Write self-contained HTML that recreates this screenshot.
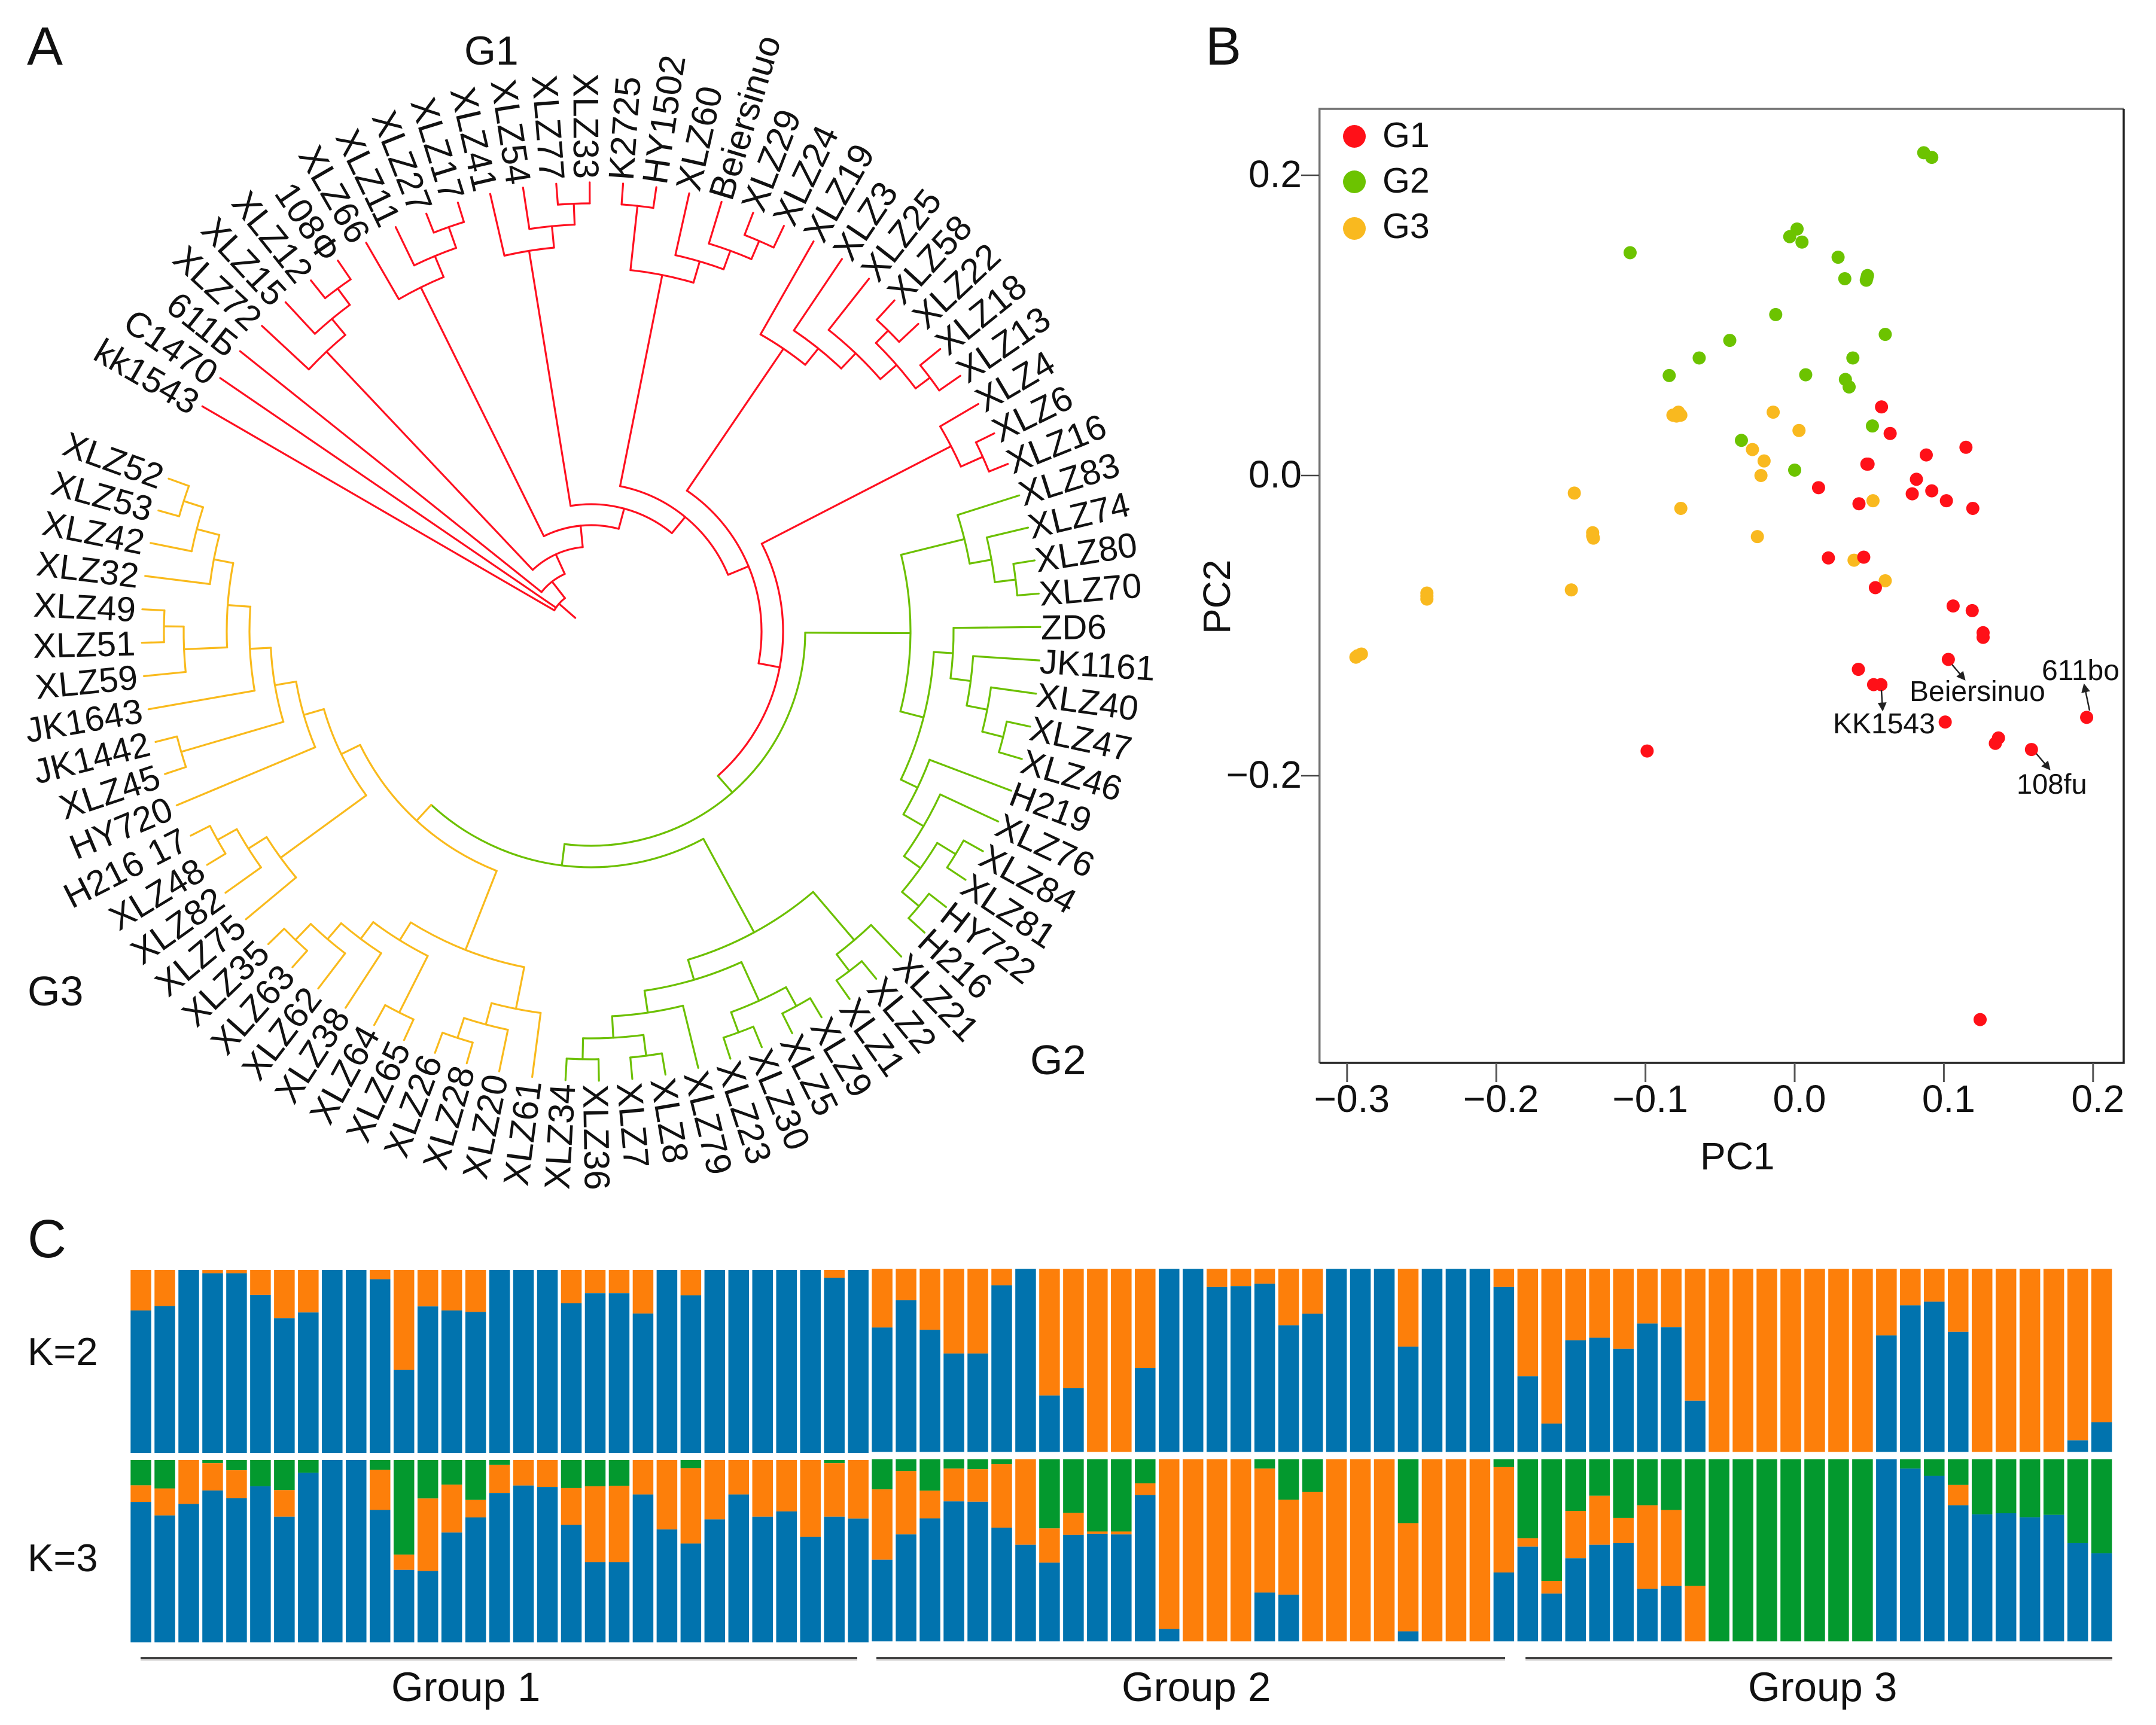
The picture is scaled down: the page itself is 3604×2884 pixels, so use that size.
<!DOCTYPE html>
<html lang="en">
<head>
<meta charset="utf-8">
<title>Phylogenetic tree, PCA and population structure</title>
<style>
html,body{margin:0;padding:0;background:#fff;}
svg{display:block;font-family:"Liberation Sans",Arial,sans-serif;}
text{fill:#111;}
</style>
</head>
<body>
<svg id="figure" xmlns="http://www.w3.org/2000/svg" width="3604" height="2884" viewBox="0 0 3604 2884">
<defs>
<marker id="arrowhead" markerWidth="7" markerHeight="7" refX="5" refY="3" orient="auto" markerUnits="strokeWidth"><path d="M0,0 L6,3 L0,6 Z" fill="#222"/></marker>
</defs>
<rect x="0" y="0" width="3604" height="2884" fill="#fff"/>

<text x="45" y="108" font-size="90">A</text>
<text x="2015" y="108" font-size="90">B</text>
<text x="46" y="2102" font-size="90">C</text>

<g id="tree"></g>
<text x="776" y="108" font-size="68">G1</text>
<text x="1722" y="1796" font-size="70">G2</text>
<text x="46" y="1681" font-size="70">G3</text>

<g id="pca">
<path d="M2205.7,1777 L2205.7,182 L3550,182" fill="none" stroke="#707070" stroke-width="3.5"/>
<path d="M2205.7,1777 L3550,1777 L3550,182" fill="none" stroke="#222" stroke-width="3.5"/>
<text x="2842" y="1955" font-size="64">PC1</text>
<text transform="translate(2056,1060) rotate(-90)" font-size="64">PC2</text>
<circle cx="2264" cy="228" r="19" fill="#ff1018"/>
<circle cx="2264" cy="304" r="19" fill="#6cc300"/>
<circle cx="2264" cy="382" r="19" fill="#f9b91f"/>
<text x="2311" y="246" font-size="59">G1</text>
<text x="2311" y="322" font-size="59">G2</text>
<text x="2311" y="398" font-size="59">G3</text>
</g>
<g id="pca-annotations">
<line x1="3263" y1="1111" x2="3284" y2="1136" stroke="#222" stroke-width="2.5" marker-end="url(#arrowhead)"/>
<line x1="3145" y1="1154" x2="3147" y2="1187" stroke="#222" stroke-width="2.5" marker-end="url(#arrowhead)"/>
<line x1="3493" y1="1188" x2="3484" y2="1145" stroke="#222" stroke-width="2.5" marker-end="url(#arrowhead)"/>
<line x1="3404" y1="1260" x2="3426" y2="1286" stroke="#222" stroke-width="2.5" marker-end="url(#arrowhead)"/>
<text x="3413" y="1137" font-size="48">611bo</text>
<text x="3192" y="1172" font-size="48">Beiersinuo</text>
<text x="3064" y="1226" font-size="48">KK1543</text>
<text x="3371" y="1327" font-size="47">108fu</text>
</g>

<g id="structure">
<text x="46" y="2282" font-size="65">K=2</text>
<text x="46" y="2627" font-size="65">K=3</text>
<line x1="235" y1="2775" x2="1433" y2="2775" stroke="#d2d0d0" stroke-width="3"/>
<line x1="1465" y1="2775" x2="2516" y2="2775" stroke="#d2d0d0" stroke-width="3"/>
<line x1="2550" y1="2775" x2="3531" y2="2775" stroke="#d2d0d0" stroke-width="3"/>
<line x1="235" y1="2772" x2="1433" y2="2772" stroke="#333" stroke-width="3.5"/>
<line x1="1465" y1="2772" x2="2516" y2="2772" stroke="#333" stroke-width="3.5"/>
<line x1="2550" y1="2772" x2="3531" y2="2772" stroke="#333" stroke-width="3.5"/>
<text x="654" y="2844" font-size="69">Group 1</text>
<text x="1875" y="2844" font-size="69">Group 2</text>
<text x="2922" y="2844" font-size="69">Group 3</text>
</g>
</svg>

<script>
// ---------- PCA data ----------
const pc1Ticks = [-0.3, -0.2, -0.1, 0.0, 0.1, 0.2];
const pc2Ticks = [0.2, 0.0, -0.2];
const g1Pc1 = [.0582,.0640,.1148,.0882,.0484,.0492,.0816,.0160,.0919,.0788,.0431,.1017,.1194,.0226,.0463,.0541,.1062,.1190,.1263,.1263,.1030,.0427,.0529,.0578,.1009,.1957,.1345,.1366,.1587,-.0989,.1243];
const g1Pc2 = [.0457,.0280,.0188,.0137,.0076,.0076,-.0025,-.0081,-.0102,-.0122,-.0188,-.0168,-.0219,-.0549,-.0544,-.0747,-.0869,-.0900,-.1047,-.1078,-.1225,-.1291,-.1393,-.1393,-.1642,-.1611,-.1784,-.1748,-.1825,-.1835,-.3624];
const g2Pc1 = [.0865,.0919,-.1103,.0016,-.0033,.0049,.0291,.0336,.0488,.0480,.0484,-.0127,-.0435,.0607,-.0640,-.0841,.0390,.0074,.0340,.0365,.0521,-.0357,.0000];
const g2Pc2 = [.2150,.2119,.1484,.1642,.1591,.1555,.1454,.1311,.1332,.1301,.1316,.1072,.0900,.0940,.0783,.0666,.0783,.0671,.0640,.0590,.0330,.0234,.0036];
const g3Pc1 = [-.0816,-.0779,-.0763,-.0792,-.0144,.0029,-.0283,-.0205,-.0226,-.1477,-.0763,-.1354,-.1349,-.0250,.0525,.0398,.0607,-.1497,-.2465,-.2465,-.2465,-.2904,-.2941,-.2929,-.1354];
const g3Pc2 = [.0402,.0422,.0402,.0396,.0422,.0300,.0173,.0097,.0000,-.0117,-.0219,-.0381,-.0417,-.0407,-.0168,-.0564,-.0701,-.0762,-.0783,-.0823,-.0803,-.1189,-.1210,-.1200,-.0402];

// ---------- Structure data (percent of bar height) ----------
const k2Blue = [77.8,80.2,100,98.1,98.1,86.3,73.5,76.7,100,100,94.8,45.4,80.0,77.8,77.0,100,100,100,81.7,87.2,87.2,76.1,100,86.1,100,100,100,100,100,95.6,100,
68.0,82.9,66.7,53.8,53.8,91.0,100,30.8,34.8,0,0,45.9,100,100,90.1,90.6,91.9,69.2,75.5,100,100,100,57.5,100,100,100,90.1,
41.3,15.5,61.0,62.4,56.4,70.2,68.1,28.0,0,0,0,0,0,0,0,63.7,80.1,82.1,65.6,0,0,0,0,6.3,16.2];
const k3Green = [13.9,15.6,0,1.7,5.6,14.4,16.5,7.0,0,0,5.4,51.9,21.1,13.5,21.9,2.6,0,0,15.4,14.4,14.1,0,0,4.4,0,0,0,0,0,1.7,0,
16.6,6.5,17.3,5.2,5.5,2.8,0,38.0,29.5,39.7,39.7,13.3,0,0,0,0,5.2,22.3,17.9,0,0,0,35.1,0,0,0,4.4,
43.4,66.8,28.4,20.1,32.3,25.3,27.9,69.6,100,100,100,100,100,100,100,0,5.2,9.2,14.2,30.3,29.7,31.9,30.6,46.1,51.7];
const k3Blue = [77.0,69.6,75.9,83.3,79.0,85.6,68.9,93.0,100,100,72.6,39.7,39.1,60.2,68.5,81.9,86.0,85.2,64.4,43.9,43.9,81.1,61.9,54.2,67.4,81.1,68.9,71.8,57.8,68.9,67.9,
44.8,58.7,67.5,76.8,76.6,62.4,53.0,43.2,58.5,58.9,58.7,80.3,6.8,0,0,0,26.8,25.6,0,0,0,0,5.5,0,0,0,37.8,
52.0,26.2,45.6,53.0,53.9,28.8,30.4,0,0,0,0,0,0,0,0,100,94.8,90.8,74.7,69.7,70.3,68.1,69.4,53.9,48.3];

// ---------- Tree data: arc radius per internal node, leaves in clockwise order ----------
const R = (r, ...kids) => ({r, g: 'g1', kids});
const V = (r, ...kids) => ({r, g: 'g2', kids});
const O = (r, ...kids) => ({r, g: 'g3', kids});
const g1a = R(644,'XLZ72',R(679,'XLZ15',R(713,'XLZ12','108Ф')));
const g1b = R(642,'XLZ66',R(680,'XLZ11',R(717,'XLZ27','XLZ17')));
const g1c = R(645,'XLZ41',R(681,'XLZ54',R(716,'XLZ77','XLZ33')));
const g1d = R(608,R(716,'K2725','HY1502'),R(645,'XLZ60',R(678,'Beiersinuo',R(711,'XLZ29','XLZ24'))));
const g1e = R(572,'XLZ19',R(607,'XLZ3',R(642,'XLZ25',R(678,R(707,'XLZ58','XLZ22'),R(708,'XLZ18','XLZ13')))));
const g1f = R(677,'XLZ4',R(717,'XLZ6','XLZ16'));
const g2Upper = V(643,'XLZ83',V(680,'XLZ74',V(715,'XLZ80','XLZ70')));
const g2A = V(606,'ZD6',V(640,'JK1161',V(675,'XLZ40',V(711,'XLZ47','XLZ46'))));
const g2B = V(605,'H219',V(644,'XLZ76',V(678,V(714,'XLZ84','XLZ81'),V(715,'HY722','H216'))));
const g2Top = V(534,g2Upper,V(574,g2A,g2B));
const g2P = V(678,'XLZ21',V(713,'XLZ2','XLZ1'));
const g2N = V(678,V(714,'XLZ9','XLZ5'),V(714,'XLZ30','XLZ23'));
const g2J = V(644,'XLZ79',V(680,V(715,'XLZ8','XLZ7'),V(715,'XLZ36','XLZ34')));
const g2Low = V(572,g2P,V(607,g2N,g2J));
const g3V = O(643,'XLZ61',O(680,'XLZ20',O(715,'XLZ28','XLZ26')));
const g3W = O(607,O(713,'XLZ65','XLZ64'),O(642,'XLZ38',O(677,'XLZ62',O(714,'XLZ63','XLZ35'))));
const g3S = O(572,g3V,g3W);
const g3L = O(642,'XLZ75',O(678,'XLZ82',O(715,'XLZ48','H216 17')));
const g3Deep = O(609,O(681,'XLZ59',O(714,'XLZ51','XLZ49')),O(642,'XLZ32',O(681,'XLZ42',O(715,'XLZ53','XLZ52'))));
const g3U = O(500,'HY720',O(536,O(714,'XLZ45','JK1442'),O(571,'JK1643',g3Deep)));
const g3T = O(465,g3L,g3U);
const n11 = O(430,g3S,g3T);
const n10 = V(394,g2Low,n11);
const n9 = V(358,g2Top,n10);
const n8 = R(321,g1f,n9);
const n7 = R(285,g1e,n8);
const n6 = R(248,g1d,n7);
const n5 = R(213,g1c,n6);
const n4 = R(178,g1b,n5);
const n3 = R(142,g1a,n4);
const n2 = R(106,'611Б',n3);
const treeRoot = R(71,'kk1543','C1470',n2);

const SVGNS = 'http://www.w3.org/2000/svg';
function mk(tag, parent, attrs, txt) {
  const el = document.createElementNS(SVGNS, tag);
  for (const k in attrs) el.setAttribute(k, attrs[k]);
  if (txt !== undefined) el.textContent = txt;
  parent.appendChild(el);
  return el;
}

// ---------- Tree drawing ----------
(function () {
  const host = document.getElementById('tree');
  const cx = 988, cy = 1056, leafR = 751, labelR = 757, rootR = 35;
  const labelCx = 983;
  const a0 = -149.9, da = 4.266;
  const colors = {g1: '#ff1020', g2: '#6cc000', g3: '#f9ba1c'};
  let idx = 0;
  const rad = d => d * Math.PI / 180;
  const pt = (a, r) => [cx + r * Math.cos(rad(a)), cy + r * Math.sin(rad(a))];
  function layout(n, g) {
    if (typeof n === 'string') {
      const a = a0 + da * idx;
      idx += 1;
      return {name: n, a, r: leafR, g, leaf: true};
    }
    const kids = n.kids.map(k => layout(k, n.g));
    return {r: n.r, g: n.g, kids, a: (kids[0].a + kids[kids.length - 1].a) / 2};
  }
  function draw(n, parentR) {
    const p1 = pt(n.a, parentR), p2 = pt(n.a, n.r);
    const stem = mk('line', host, {x1: p1[0], y1: p1[1], x2: p2[0], y2: p2[1], stroke: colors[n.g], 'stroke-width': 3.2, 'stroke-linecap': 'round'});
    
    
    if (n.leaf) {
      const flip = Math.cos(rad(n.a)) < 0;
      const lp = [labelCx + labelR * Math.cos(rad(n.a)), cy + labelR * Math.sin(rad(n.a))];
      const fontSize = 58 + 2 * Math.abs(Math.sin(rad(n.a)));
      const label = mk('text', host, {
        x: lp[0], y: lp[1], dy: '0.36em', 'font-size': fontSize,
        'text-anchor': flip ? 'end' : 'start',
        transform: 'rotate(' + (flip ? n.a + 180 : n.a) + ' ' + lp[0] + ' ' + lp[1] + ')'
      }, n.name);
      
      
      return;
    }
    const aS = n.kids[0].a, aE = n.kids[n.kids.length - 1].a;
    const s = pt(aS, n.r), e = pt(aE, n.r);
    const large = (aE - aS) > 180 ? 1 : 0;
    const arc = mk('path', host, {
      d: 'M' + s[0] + ',' + s[1] + ' A' + n.r + ',' + n.r + ' 0 ' + large + ' 1 ' + e[0] + ',' + e[1],
      fill: 'none', stroke: colors[n.g], 'stroke-width': 3.2, 'stroke-linecap': 'round'
    });
    
    
    n.kids.forEach(k => draw(k, n.r));
  }
  draw(layout(treeRoot, treeRoot.g), rootR);
})();

// ---------- PCA drawing ----------
(function () {
  const host = document.getElementById('pca');
  const xS = v => 3000 + 2494 * v;
  const yS = v => 795 - 2510 * v;
  const fmt = v => (v < 0 ? '\u2212' : '') + Math.abs(v).toFixed(1);
  pc1Ticks.forEach(v => {
    const t = mk('line', host, {x1: xS(v), y1: 1777, x2: xS(v), y2: 1809, stroke: '#555', 'stroke-width': 3});
    
    
    const l = mk('text', host, {x: xS(v) + 8, y: 1859, 'font-size': 64, 'text-anchor': 'middle'}, fmt(v));
    
    
  });
  pc2Ticks.forEach(v => {
    const t = mk('line', host, {x1: 2175, y1: yS(v), x2: 2205, y2: yS(v), stroke: '#444', 'stroke-width': 2.5});
    
    
    const l = mk('text', host, {x: 2176, y: yS(v) + 20, 'font-size': 64, 'text-anchor': 'end'}, fmt(v));
    
    
  });
  function series(xs, ys, color, name) {
    xs.forEach((x, i) => {
      const c = mk('circle', host, {cx: xS(x), cy: yS(ys[i]), r: 11, fill: color});
      
      
    });
  }
  series(g3Pc1, g3Pc2, '#f9b91f', 'point-g3');
  series(g2Pc1, g2Pc2, '#6cc300', 'point-g2');
  series(g1Pc1, g1Pc2, '#ff1018', 'point-g1');
})();

// ---------- Structure drawing ----------
(function () {
  const host = document.getElementById('structure');
  const BLUE = '#0173ae', ORANGE = '#fd7f0a', GREEN = '#03992e';
  const barX = i => 218.3 + 39.97 * i;
  const barW = 34.5;
  const shift = i => (i >= 31 ? -1.5 : 0);
  function seg(i, top, h, from, pct, color, name) {
    if (pct <= 0) return;
    const r = mk('rect', host, {x: barX(i), y: top + shift(i) + h * from / 100, width: barW, height: h * pct / 100, fill: color});
    
    
  }
  const k2Top = 2123, k2H = 306, k3Top = 2441, k3H = 304.7;
  k2Blue.forEach((b, i) => {
    seg(i, k2Top, k2H, 0, 100 - b, ORANGE, 'k2-orange-segment');
    seg(i, k2Top, k2H, 100 - b, b, BLUE, 'k2-blue-segment');
  });
  k3Blue.forEach((b, i) => {
    const g = k3Green[i];
    seg(i, k3Top, k3H, 0, g, GREEN, 'k3-green-segment');
    seg(i, k3Top, k3H, g, 100 - g - b, ORANGE, 'k3-orange-segment');
    seg(i, k3Top, k3H, 100 - b, b, BLUE, 'k3-blue-segment');
  });
})();
</script>
</body>
</html>
